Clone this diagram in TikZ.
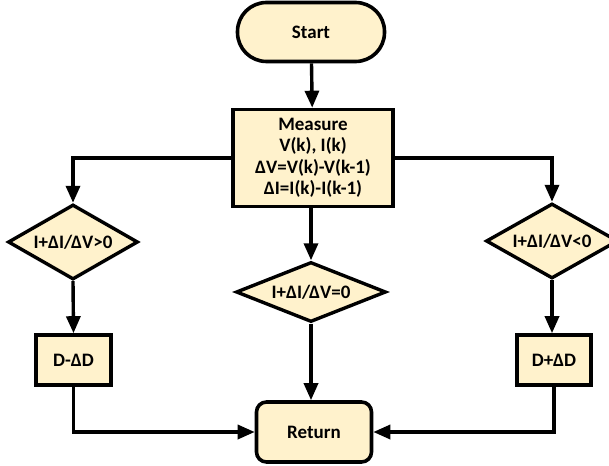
\documentclass[tikz,border=0pt]{standalone}
\usepackage{fontspec}
\setmainfont{Carlito}
\usetikzlibrary{arrows.meta, shapes.geometric}

\tikzset{
    block/.style={draw, line width=3.6pt, fill=boxfill, align=center, inner sep=2pt},
    decision/.style={diamond, draw, line width=3.4pt, fill=boxfill, aspect=1.75, inner sep=0pt},
    flow/.style={->, line width=3.4pt},
}
\definecolor{boxfill}{HTML}{FFF2CC}

\begin{document}
\begin{tikzpicture}[x=1pt, y=-1pt, >={Triangle[length=17pt, width=14pt]}, font=\fontsize{19}{21.5}\selectfont\bfseries]
    \useasboundingbox (0,0) rectangle (609,465);
    \node[block, rounded corners=29pt, minimum width=147pt, minimum height=59pt] (start) at (311,32) {Start};
    \node[block, minimum width=160pt, minimum height=97pt] (measure) at (313,158) {Measure\\V(k), I(k)\\ΔV=V(k)-V(k-1)\\ΔI=I(k)-I(k-1)};
    \node[decision, minimum width=130pt, minimum height=75pt] (dpos) at (73,242) {I+ΔI/ΔV>0};
    \node[decision, minimum width=150pt, minimum height=60pt] (dzero) at (311,292) {I+ΔI/ΔV=0};
    \node[decision, minimum width=132pt, minimum height=75pt] (dneg) at (552,241) {I+ΔI/ΔV<0};
    \node[block, minimum width=75pt, minimum height=50pt] (dec) at (73.5,360) {D-ΔD};
    \node[block, minimum width=74pt, minimum height=50pt] (inc) at (554,360) {D+ΔD};
    \node[block, rounded corners=10pt, minimum width=115pt, minimum height=60pt] (ret) at (314,432) {Return};

    \draw[flow] (start) -- (measure);
    \draw[flow] (measure.west) -| (dpos.north);
    \draw[flow] (measure.east) -| (dneg.north);
    \draw[flow] (measure.south -| dzero.north) -- (dzero.north);
    \draw[flow] (dpos.south) -- (dec.north);
    \draw[flow] (dneg.south) -- (dneg.south |- inc.north);
    \draw[flow] (dzero.south) -- (dzero.south |- ret.north);
    \draw[flow] (dec.south) |- (ret.west);
    \draw[flow] (inc.south) |- (ret.east);
\end{tikzpicture}
\end{document}
